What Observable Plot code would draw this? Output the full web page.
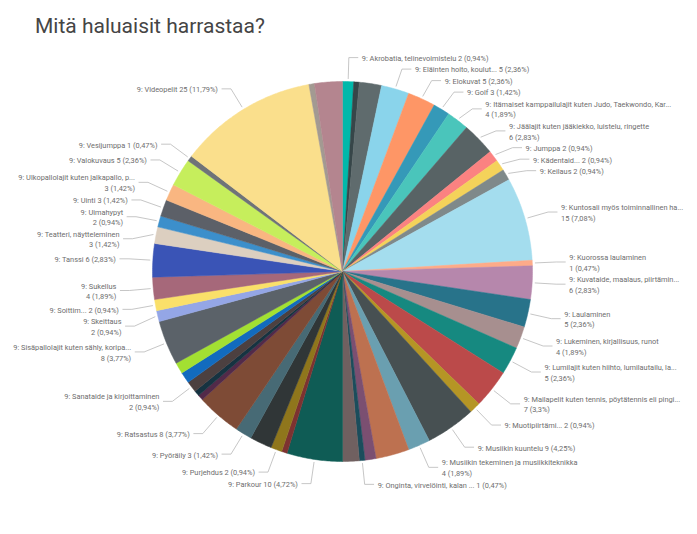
<!DOCTYPE html>
<html><head><meta charset="utf-8">
<script src="https://cdn.jsdelivr.net/npm/d3@7"></script>
<script src="https://cdn.jsdelivr.net/npm/@observablehq/plot@0.6"></script>
<style>
html,body{margin:0;padding:0;background:#fff;}
#title{height:48px;box-sizing:border-box;padding:14px 0 0 35px;font-family:Roboto,sans-serif;font-size:21px;color:#454545;line-height:24px;}
</style></head><body>
<div id="title">Mitä haluaisit harrastaa?</div>
<div id="chart"></div>
<script>
// Categories in drawing order (clockwise from 12 o'clock); "" = slice without a visible label
const categories = [
  "Akrobatia, telinevoimistelu", "", "", "Eläinten hoito, koulut...", "Elokuvat", "Golf",
  "Itämaiset kamppailulajit kuten Judo, Taekwondo, Kar...", "Jäälajit kuten jääkiekko, luistelu, ringette",
  "Jumppa", "Kädentaid...", "Keilaus", "Kuntosali myös toiminnallinen ha...", "Kuorossa laulaminen",
  "Kuvataide, maalaus, piirtämin...", "Laulaminen", "Lukeminen, kirjallisuus, runot",
  "Lumilajit kuten hiihto, lumilautailu, la...", "Mailapelit kuten tennis, pöytätennis eli pingi...",
  "Muotipiirtämi...", "Musiikin kuuntelu", "Musiikin tekeminen ja musiikkiteknikka", "", "",
  "Onginta, virvelöinti, kalan ...", "", "Parkour", "", "Purjehdus", "", "Pyöräily", "Ratsastus", "", "",
  "Sanataide ja kirjoittaminen", "", "", "Sisäpallolajit kuten sähly, koripa...", "Skeittaus", "Soittim...",
  "Sukellus", "Tanssi", "Teatteri, näytteleminen", "Uimahypyt", "Uinti", "Ulkopallolajit kuten jalkapallo, p...",
  "Valokuvaus", "Vesijumppa", "Videopelit", "", ""
];
const values = [
  2, 1, 4, 5, 5, 3,
  4, 6,
  2, 2, 2, 15, 1,
  6, 5, 4,
  5, 7,
  2, 9, 4, 6, 2,
  1, 3, 10, 1, 2, 4, 3, 8, 1, 1,
  2, 2, 2, 8, 2, 2,
  4, 6, 3, 2, 3, 3,
  5, 1, 25, 1, 5
];
const colors = [
  "#01B8AA", "#374649", "#5F6B6D", "#8AD4EB", "#FE9666", "#3599B8",
  "#4AC5BB", "#586365",
  "#FB8281", "#F4D25A", "#7F898A", "#A4DDEE", "#FDAB89",
  "#B687AC", "#28738A", "#A78F8F",
  "#168980", "#BB4A4A",
  "#B59525", "#475052", "#6A9FB0", "#BD7150", "#7B4F71",
  "#1B4D5C", "#706060", "#0F5C55", "#7D3231", "#8F761C", "#303637", "#476A75", "#7E4B36", "#522A49", "#163341",
  "#4C4040", "#126BBE", "#A3E032", "#5B6269", "#94A6E6", "#FAE06A",
  "#A6687A", "#3A54B6", "#DCCFC0", "#3C8FCB", "#5C6068", "#F9B681",
  "#C6EE5C", "#6F7378", "#FADF8C", "#A39A92", "#B4858F"
];
// labels shown on two lines
const wrapped = [
  "Itämaiset kamppailulajit kuten Judo, Taekwondo, Kar...", "Jäälajit kuten jääkiekko, luistelu, ringette",
  "Kuntosali myös toiminnallinen ha...", "Kuorossa laulaminen", "Kuvataide, maalaus, piirtämin...",
  "Laulaminen", "Lukeminen, kirjallisuus, runot", "Lumilajit kuten hiihto, lumilautailu, la...",
  "Mailapelit kuten tennis, pöytätennis eli pingi...", "Musiikin tekeminen ja musiikkiteknikka",
  "Ulkopallolajit kuten jalkapallo, p...", "Uimahypyt", "Teatteri, näytteleminen", "Sukellus", "Skeittaus",
  "Sisäpallolajit kuten sähly, koripa...", "Sanataide ja kirjoittaminen"
];
const prefix = "9: ";

// ---- layout ----
const W = 697, H = 534, TOP = 48;
const cx = 342, cy = 271, r = 190, R2 = 214;
const FS = 7.4, LHF = 1.42, LH = FS * LHF;
const total = d3.sum(values);
const arcs = d3.pie().sort(null).value(d => d)(values);

const slicePts = arcs.flatMap((a, i) => {
  const n = Math.max(2, Math.ceil((a.endAngle - a.startAngle) / 0.01));
  const pts = [{i, x: cx, y: cy}];
  for (let k = 0; k <= n; k++) {
    const t = a.startAngle + (a.endAngle - a.startAngle) * k / n;
    pts.push({i, x: cx + r * Math.sin(t), y: cy - r * Math.cos(t)});
  }
  pts.push({i, x: cx, y: cy});
  return pts;
});

const pct = v => String(Math.round(v / total * 10000) / 100).replace(".", ",") + "%";
let labels = arcs.map((a, i) => {
  const name = categories[i];
  if (!name) return null;
  const m = (a.startAngle + a.endAngle) / 2;
  const two = wrapped.includes(name);
  const text = two ? `${prefix}${name}\n${values[i]} (${pct(values[i])})` : `${prefix}${name} ${values[i]} (${pct(values[i])})`;
  return {i, m, text, h: two ? 2 * LH : LH, side: m < Math.PI ? 1 : -1,
          ny: cy - R2 * Math.cos(m), ex: cx + R2 * Math.sin(m)};
}).filter(d => d);

for (const side of [1, -1]) {
  const s = labels.filter(d => d.side === side).sort((a, b) => a.ny - b.ny);
  let prev = null;
  for (const d of s) {
    d.y = prev ? Math.max(d.ny, prev.y + prev.h / 2 + d.h / 2 + 1) : d.ny;
    prev = d;
  }
}

const leaders = labels.flatMap(d => [
  {i: d.i, x: cx + (r + 3) * Math.sin(d.m), y: cy - (r + 3) * Math.cos(d.m)},
  {i: d.i, x: d.ex, y: d.y},
  {i: d.i, x: d.ex + d.side * 9, y: d.y}
]);
labels.forEach(d => d.tx = d.ex + d.side * 13);

const chart = Plot.plot({
  width: W, height: H - TOP, margin: 0,
  x: {domain: [0, W], range: [0, W], axis: null},
  y: {domain: [TOP, H], range: [0, H - TOP], axis: null},
  style: {fontFamily: "Roboto, sans-serif", background: "#fff"},
  marks: [
    Plot.line(slicePts, {x: "x", y: "y", z: "i", fill: d => colors[d.i], stroke: d => colors[d.i], strokeWidth: 0.5, curve: "linear"}),
    Plot.line(leaders, {x: "x", y: "y", z: "i", stroke: "#b8b8b8", strokeWidth: 0.8}),
    Plot.text(labels.filter(d => d.side === 1), {x: "tx", y: "y", text: "text", textAnchor: "start", lineAnchor: "middle", lineHeight: LHF, fontSize: FS, fill: "#6e6e6e"}),
    Plot.text(labels.filter(d => d.side === -1), {x: "tx", y: "y", text: "text", textAnchor: "end", lineAnchor: "middle", lineHeight: LHF, fontSize: FS, fill: "#6e6e6e"})
  ]
});
document.getElementById("chart").appendChild(chart);
</script>
</body></html>
